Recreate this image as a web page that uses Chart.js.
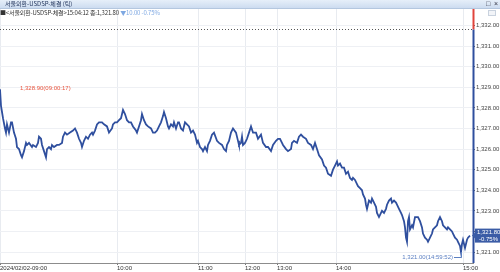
<!DOCTYPE html>
<html>
<head>
<meta charset="utf-8">
<script src="https://cdn.jsdelivr.net/npm/chart.js@4.4.1/dist/chart.umd.min.js"></script>
<style>
  body { margin: 0; background: #fff; }
  #wrap { position: relative; width: 500px; height: 272px; overflow: hidden; }
  #c { position: absolute; left: 0; top: 0; }
  .bar { position: absolute; left: 0; top: 0; width: 500px; height: 9px; background: linear-gradient(#e6eff9, #cddcf0); border-bottom: 1px solid #b4c7df; box-sizing: border-box; }
  .bar .t { position: absolute; left: 5px; top: 0; font: 6px/8px 'Noto Sans CJK KR', 'Liberation Sans', sans-serif; color: #22345c; white-space: nowrap; }
  .bar .btn { position: absolute; top: 0; font: 7px/8px 'Liberation Sans', sans-serif; color: #334; }
  .info { position: absolute; left: 0; top: 9px; font: 6px/8px 'Noto Sans CJK KR', 'Liberation Sans', sans-serif; color: #333; white-space: nowrap; letter-spacing: -0.15px; }
  .info .dn { color: #7ea8e2; }
  .opt { position: absolute; left: 488px; top: 10px; width: 8px; height: 6px; border: 1px solid #c9d2de; background: #f2f4f8; box-sizing: border-box; }
</style>
</head>
<body>
<div id="wrap">
  <canvas id="c" width="500" height="272"></canvas>
  <div class="bar">
    <span class="t">서울외환-USDSP-체결 (틱)</span>
    <span class="btn" style="left:486px">□</span>
    <span class="btn" style="left:494px">×</span>
  </div>
  <div class="info">■&lt;서울외환-USDSP-체결&gt;15:04:12 종:1,321.80 <span class="dn">▼10.00 -0.75%</span></div>
  <div class="opt"></div>
</div>
<script>
// tick sequence position (x) and traded price for each sampled tick
var tickSeq = [
  0, 1, 2, 3, 5, 6, 7, 9, 11, 12,
  14, 16, 17, 19, 21, 22, 24, 26, 27, 29,
  32, 33, 36, 38, 39, 41, 42, 44, 46, 47,
  49, 51, 52, 54, 57, 59, 62, 63, 65, 67,
  70, 73, 75, 77, 79, 81, 82, 84, 86, 88,
  90, 92, 93, 95, 97, 99, 102, 104, 107, 109,
  112, 113, 115, 117, 119, 121, 123, 125, 127, 129,
  131, 133, 136, 137, 139, 141, 142, 144, 146, 148,
  151, 153, 155, 157, 159, 161, 163, 164, 166, 168,
  169, 171, 173, 174, 176, 178, 179, 181, 183, 185,
  187, 189, 191, 193, 195, 197, 198, 200, 202, 203,
  205, 207, 208, 210, 212, 214, 217, 219, 222, 224,
  226, 227, 229, 231, 233, 236, 238, 239, 241, 242,
  243, 245, 247, 249, 251, 253, 256, 258, 261, 263,
  266, 268, 271, 273, 276, 278, 280, 282, 283, 286,
  288, 291, 292, 294, 297, 299, 301, 303, 306, 308,
  311, 313, 315, 317, 319, 322, 324, 326, 328, 331,
  333, 335, 337, 338, 340, 342, 344, 346, 348, 350,
  352, 353, 355, 357, 358, 360, 362, 363, 365, 366,
  367, 369, 371, 372, 374, 376, 377, 379, 381, 382,
  384, 386, 387, 389, 391, 392, 394, 396, 397, 399,
  401, 402, 404, 405, 406, 407, 408, 409, 410, 412,
  413, 415, 417, 418, 420, 422, 423, 425, 427, 428,
  430, 432, 433, 435, 437, 438, 440, 442, 443, 445,
  447, 448, 450, 452, 453, 455, 457, 458, 460, 461,
  462, 463, 465, 467, 468, 470
];
var price = [
  1328.9, 1328.1, 1327.8, 1327.5, 1327.0, 1326.8, 1327.2, 1326.8, 1327.3, 1327.3,
  1326.8, 1326.5, 1326.1, 1326.0, 1325.7, 1325.6, 1325.9, 1326.3, 1326.2, 1326.3,
  1326.1, 1326.2, 1326.1, 1326.3, 1326.6, 1326.5, 1326.2, 1325.9, 1325.6, 1326.0,
  1326.1, 1326.0, 1326.2, 1326.1, 1326.2, 1326.2, 1326.3, 1326.6, 1326.8, 1326.7,
  1326.8, 1326.9, 1327.0, 1326.8, 1326.5, 1326.3, 1326.1, 1326.4, 1326.6, 1326.5,
  1326.7, 1326.8, 1326.7, 1326.9, 1327.2, 1327.3, 1327.3, 1327.2, 1327.1, 1326.8,
  1327.0, 1327.2, 1327.3, 1327.3, 1327.4, 1327.5, 1327.9, 1327.7, 1327.4, 1327.3,
  1327.3, 1327.1, 1326.9, 1326.8, 1327.1, 1327.4, 1327.7, 1327.4, 1327.2, 1327.1,
  1327.0, 1326.8, 1326.8, 1326.9, 1327.1, 1327.3, 1327.6, 1327.8, 1327.5, 1327.1,
  1327.0, 1327.2, 1327.1, 1327.3, 1327.0, 1327.3, 1327.3, 1327.0, 1326.9, 1327.3,
  1327.2, 1327.1, 1326.8, 1326.9, 1326.7, 1326.3, 1326.4, 1326.1, 1326.0, 1325.9,
  1326.1, 1325.9, 1326.2, 1326.4, 1326.7, 1326.8, 1326.4, 1326.3, 1326.2, 1326.0,
  1325.9, 1326.2, 1326.4, 1326.8, 1327.0, 1326.8, 1326.4, 1326.2, 1326.3, 1326.6,
  1326.2, 1326.3, 1326.5, 1326.8, 1327.1, 1326.8, 1326.8, 1326.5, 1326.7, 1326.3,
  1326.1, 1326.1, 1325.9, 1326.2, 1326.4, 1326.5, 1326.5, 1326.3, 1326.2, 1326.0,
  1325.9, 1326.0, 1326.3, 1326.4, 1326.3, 1326.6, 1326.7, 1326.6, 1326.5, 1326.3,
  1326.2, 1326.0, 1326.3, 1326.0, 1325.7, 1325.5, 1325.2, 1325.1, 1324.8, 1324.7,
  1325.0, 1325.2, 1325.4, 1325.2, 1325.3, 1325.1, 1325.1, 1324.8, 1324.9, 1324.6,
  1324.5, 1324.6, 1324.5, 1324.3, 1324.2, 1324.1, 1324.0, 1323.8, 1323.6, 1323.3,
  1323.1, 1323.5, 1323.4, 1323.6, 1323.4, 1323.2, 1322.9, 1322.7, 1322.9, 1323.0,
  1322.9, 1323.1, 1323.3, 1323.5, 1323.6, 1323.4, 1323.5, 1323.4, 1323.3, 1323.1,
  1322.9, 1322.8, 1322.5, 1322.2, 1321.7, 1321.5, 1322.5, 1322.7, 1322.1, 1322.3,
  1322.2, 1322.7, 1322.7, 1322.7, 1322.5, 1322.2, 1321.9, 1321.7, 1321.6, 1321.5,
  1321.7, 1321.9, 1322.1, 1322.2, 1322.3, 1322.5, 1322.7, 1322.5, 1322.3, 1322.2,
  1322.1, 1322.2, 1322.1, 1322.0, 1321.9, 1321.7, 1321.6, 1321.5, 1321.3, 1321.0,
  1321.4, 1321.6, 1321.2, 1321.6, 1321.7, 1321.8
];

var hourSeq = [0, 117, 198, 245, 277, 336, 463];
var hourLabels = ['2024/02/02-09:00', '10:00', '11:00', '12:00', '13:00', '14:00', '15:00'];
var priceTicks = [1321, 1322, 1323, 1324, 1325, 1326, 1327, 1328, 1329, 1330, 1331, 1332];

var prevClose = 1331.80;
var lastPrice = 1321.80;
var lastChange = '-0.75%';
var highMark = { seq: 0, price: 1328.90, time: '09:00:17' };
var lowMark = { seq: 461, price: 1321.00, time: '14:59:52' };

var LINE_BLUE = '#2f4f9e';
var FONT = 'Liberation Sans';

function fmt(v) {
    return v.toLocaleString('en-US', { minimumFractionDigits: 2, maximumFractionDigits: 2 });
}

var overlay = {
    id: 'overlay',
    afterDraw: function(chart) {
        var ctx = chart.ctx, a = chart.chartArea;
        var xs = chart.scales.x, ys = chart.scales.y;
        ctx.save();

        // previous close, dotted
        var yp = Math.round(ys.getPixelForValue(prevClose)) - 0.5;
        ctx.strokeStyle = '#555';
        ctx.lineWidth = 1;
        ctx.setLineDash([1, 2]);
        ctx.beginPath();
        ctx.moveTo(a.left, yp);
        ctx.lineTo(a.right, yp);
        ctx.stroke();
        ctx.setLineDash([]);

        // price axis: red above prev close, blue below
        var ax = a.right + 0.5;
        ctx.lineWidth = 2;
        ctx.strokeStyle = '#e0443c';
        ctx.beginPath(); ctx.moveTo(ax, a.top); ctx.lineTo(ax, yp); ctx.stroke();
        ctx.strokeStyle = LINE_BLUE;
        ctx.beginPath(); ctx.moveTo(ax, yp); ctx.lineTo(ax, a.bottom); ctx.stroke();

        ctx.font = '6px "' + FONT + '"';
        ctx.textBaseline = 'middle';

        // high
        var hx = xs.getPixelForValue(highMark.seq), hy = ys.getPixelForValue(highMark.price);
        ctx.fillStyle = '#e8553f';
        ctx.textAlign = 'left';
        ctx.fillText(fmt(highMark.price) + '(' + highMark.time + ')', hx + 20, hy - 1);

        // low, with leader
        var lx = xs.getPixelForValue(lowMark.seq), ly = ys.getPixelForValue(lowMark.price);
        var ty = ly + 5;
        ctx.fillStyle = '#5b7fc2';
        ctx.textAlign = 'right';
        ctx.fillText(fmt(lowMark.price) + '(' + lowMark.time + ')', lx - 8, ty);
        ctx.strokeStyle = '#5b7fc2';
        ctx.lineWidth = 1;
        ctx.beginPath();
        ctx.moveTo(lx - 7, Math.round(ty) + 0.5);
        ctx.lineTo(Math.round(lx) + 0.5, Math.round(ty) + 0.5);
        ctx.lineTo(Math.round(lx) + 0.5, ly);
        ctx.stroke();

        // last price badge
        var by = ys.getPixelForValue(lastPrice);
        ctx.fillStyle = '#3b5ca6';
        ctx.fillRect(a.right + 2, by - 7, chart.width - a.right - 2, 14);
        ctx.beginPath();
        ctx.moveTo(a.right + 2, by - 3);
        ctx.lineTo(a.right - 1, by);
        ctx.lineTo(a.right + 2, by + 3);
        ctx.fill();
        ctx.fillStyle = '#fff';
        ctx.textAlign = 'left';
        ctx.fillText(fmt(lastPrice), a.right + 4, by - 3);
        ctx.fillText(lastChange, a.right + 6, by + 3.5);

        ctx.restore();
    }
};

var chart = new Chart(document.getElementById('c'), {
    type: 'line',
    data: {
        datasets: [{
            data: tickSeq.map(function(s, i) { return { x: s, y: price[i] }; }),
            borderColor: LINE_BLUE,
            borderWidth: 1.8,
            pointRadius: 0,
            tension: 0
        }]
    },
    options: {
        responsive: false,
        animation: false,
        devicePixelRatio: 1,
        layout: { padding: { top: 9, left: 0, right: 0, bottom: 0 } },
        plugins: { legend: { display: false }, tooltip: { enabled: false } },
        scales: {
            x: {
                type: 'linear',
                min: 0,
                max: 473,
                afterBuildTicks: function(s) { s.ticks = hourSeq.map(function(v) { return { value: v }; }); },
                afterFit: function(s) { s.height = 9; },
                ticks: {
                    callback: function(v, i) { return hourLabels[i]; },
                    align: 'start',
                    padding: 0,
                    maxRotation: 0,
                    autoSkip: false,
                    color: '#333',
                    font: { family: FONT, size: 6 }
                },
                grid: { color: '#e8ebf0', tickColor: '#777', tickLength: 2 },
                border: { color: '#8c8c8c' }
            },
            y: {
                position: 'right',
                min: 1320.47,
                max: 1332.8,
                afterBuildTicks: function(s) { s.ticks = priceTicks.map(function(v) { return { value: v }; }); },
                afterFit: function(s) { s.width = 27; },
                ticks: {
                    callback: function(v) { return fmt(v); },
                    padding: 1,
                    color: '#444',
                    font: { family: FONT, size: 6 }
                },
                grid: { color: '#eef0f4', tickColor: '#666', tickLength: 2 },
                border: { display: false }
            }
        }
    },
    plugins: [overlay]
});
</script>
</body>
</html>
